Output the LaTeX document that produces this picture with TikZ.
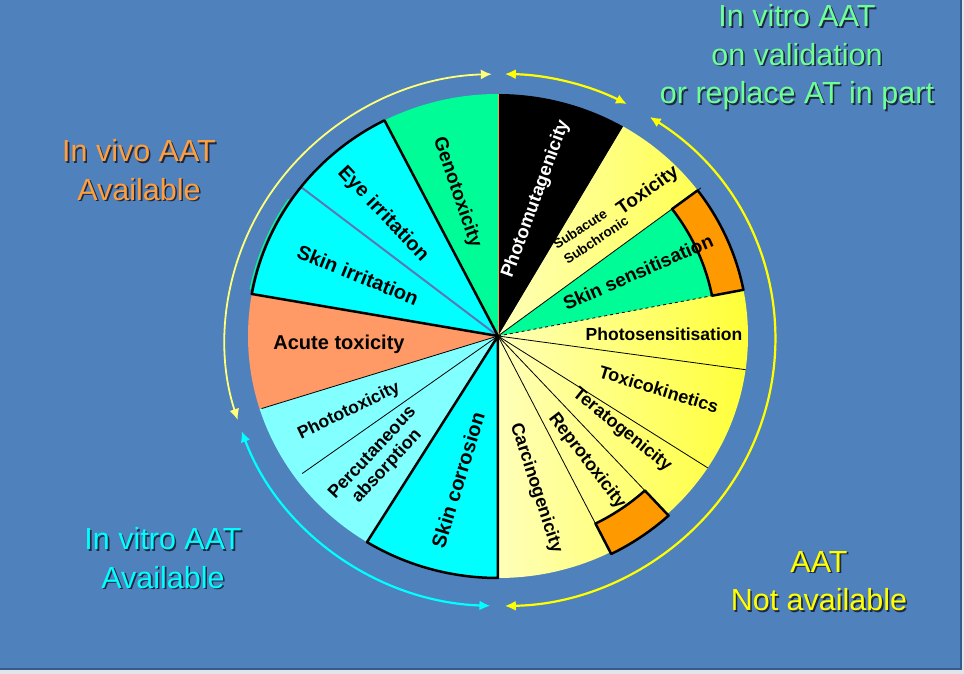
\documentclass[tikz,border=0pt]{standalone}
\usepackage{fontspec}
\setmainfont{Liberation Sans}
\usetikzlibrary{arrows.meta}
\definecolor{bgblue}{RGB}{79,129,189}
\definecolor{edgeblue}{RGB}{55,90,140}
\definecolor{framegray}{RGB}{225,228,232}
\definecolor{sgreen}{RGB}{0,252,150}
\definecolor{scyan}{RGB}{0,255,255}
\definecolor{lcyan}{RGB}{130,255,255}
\definecolor{salmon}{RGB}{255,153,102}
\definecolor{sorange}{RGB}{255,153,0}
\definecolor{pyellow}{RGB}{255,255,185}
\definecolor{byellow}{RGB}{255,255,55}
\definecolor{sepblue}{RGB}{90,120,180}
\definecolor{tgreen}{RGB}{110,255,150}
\definecolor{torange}{RGB}{255,158,60}
\definecolor{tcyan}{RGB}{0,255,255}
\definecolor{tyellow}{RGB}{255,255,0}
\definecolor{lyellow}{RGB}{255,255,120}
\definecolor{shadowc}{RGB}{30,40,65}
\newcommand\piesector[3]{\path[#1] (0,0) -- (#2:250pt and 242pt) arc[start angle=#2, end angle=#3, x radius=250pt, y radius=242pt] -- cycle;}
\newcommand\shl[1]{\rlap{\hspace{1.6pt}\raisebox{-1.6pt}{\textcolor{shadowc}{#1}}}#1}
\tikzset{
  lab/.style={font=\bfseries\fontsize{19}{21}\selectfont, inner sep=0pt, text=black},
  slab/.style={font=\bfseries\fontsize{13.5}{15}\selectfont, inner sep=0pt, text=black},
  outer/.style={font=\fontsize{30.5}{38.5}\selectfont, align=center, inner sep=0pt},
  arcarrow/.style={line width=2.2pt, {Latex[length=11pt,width=10pt]}-{Latex[length=11pt,width=10pt]}},
  divider/.style={black, line width=0.8pt},
  thickline/.style={draw=black, line width=2.5pt, line join=round}
}
\begin{document}
\begin{tikzpicture}[x=1pt,y=1pt]
\useasboundingbox (-498,-338) rectangle (466,336);
\fill[framegray] (-498,-338) rectangle (466,336);
\fill[bgblue] (-498,-333) rectangle (463,336);
\draw[edgeblue, line width=1.5pt] (-498,-333) -- (463,-333) -- (463,336);

% yellow region with gradient
\path[left color=pyellow, right color=byellow] (0,0) -- (-90:250pt and 242pt) arc[start angle=-90, end angle=60, x radius=250pt, y radius=242pt] -- cycle;

% sectors
\piesector{fill=black}{60}{90}
\piesector{fill=sgreen}{90}{117}
\draw[sgreen, line width=1.2pt] (146:252.5pt and 244.5pt) arc[start angle=146, end angle=169, x radius=252.5pt, y radius=244.5pt];
\piesector{fill=scyan}{117}{170}
\piesector{fill=salmon}{170}{197.6}
\piesector{fill=lcyan}{197.6}{238.4}
\piesector{fill=scyan}{238.4}{270}
\piesector{fill=sgreen}{11}{37}

% dividers
\draw[torange, line width=0.8pt] (0,0) -- (90:250pt and 242pt);
\draw[divider] (0,0) -- (197.6:248pt and 240pt);
\draw[divider] (0,0) -- (216:242pt and 234pt);
\draw[divider] (0,0) -- (37:254pt and 246pt);
\draw[divider, dashed] (0,0) -- (11:250pt and 242pt);
\draw[divider] (0,0) -- (-8:250pt and 242pt);
\draw[divider] (0,0) -- (-33:250pt and 242pt);
\draw[divider] (0,0) -- (-47.4:250pt and 242pt);
\draw[divider] (0,0) -- (-63.3:250pt and 242pt);
\draw[sepblue, line width=2pt] (0,0) -- (142:250pt and 242pt);

% thick outlines
\piesector{thickline}{117}{170}
\piesector{thickline}{238.4}{270}

% orange bars
\draw[fill=sorange, line width=2.5pt, line join=round] (11:218pt and 211pt) -- (11:250pt and 242pt) arc[start angle=11, end angle=37, x radius=250pt, y radius=242pt] -- (37:218pt and 211pt) arc[start angle=37, end angle=11, x radius=218pt, y radius=211pt] -- cycle;
\draw[fill=sorange, line width=2.5pt, line join=round] (-63.3:217pt and 210pt) -- (-63.3:252pt and 244pt) arc[start angle=-63.3, end angle=-47.4, x radius=252pt, y radius=244pt] -- (-47.4:217pt and 210pt) arc[start angle=-47.4, end angle=-63.3, x radius=217pt, y radius=210pt] -- cycle;

% sector labels
\node[lab, rotate=-71] (geno) at (-41,144) {Genotoxicity};
\node[lab, rotate=70, text=white, font=\bfseries\fontsize{18.5}{20}\selectfont] (photomut) at (38,137) {Photomutagenicity};
\node[lab, rotate=-46.5, font=\bfseries\fontsize{20}{22}\selectfont] (eye) at (-115,122) {Eye irritation};
\node[lab, rotate=-22, font=\bfseries\fontsize{20}{22}\selectfont] (skinirr) at (-140,61) {Skin irritation};
\node[lab, font=\bfseries\fontsize{20}{22}\selectfont] (acute) at (-159,-8) {Acute toxicity};
\node[lab, rotate=25.7, font=\bfseries\fontsize{17.5}{19}\selectfont] (phototox) at (-149,-75) {Phototoxicity};
\node[lab, rotate=47, align=center, font=\bfseries\fontsize{18}{20}\selectfont] (percut) at (-118,-124) {Percutaneous\\absorption};
\node[lab, rotate=73, font=\bfseries\fontsize{20}{22}\selectfont] (skincorr) at (-40,-144) {Skin corrosion};
\node[lab, rotate=-72, font=\bfseries\fontsize{18}{20}\selectfont] (carc) at (38,-152) {Carcinogenicity};
\node[lab, rotate=-52.5, font=\bfseries\fontsize{18}{20}\selectfont] (repro) at (89,-125) {Reprotoxicity};
\node[lab, rotate=-39, font=\bfseries\fontsize{18}{20}\selectfont] (terato) at (124,-94) {Teratogenicity};
\node[lab, rotate=-17, font=\bfseries\fontsize{18}{20}\selectfont] (toxkin) at (161,-53) {Toxicokinetics};
\node[lab, font=\bfseries\fontsize{17.5}{19}\selectfont] (photosens) at (166,2) {Photosensitisation};
\node[lab, rotate=23.7, font=\bfseries\fontsize{19}{21}\selectfont] (skinsens) at (140,64) {Skin sensitisation};
\node[lab, rotate=35, font=\bfseries\fontsize{19}{21}\selectfont] (toxicity) at (150,145) {Toxicity};
\node[slab, rotate=33] (subacute) at (82,107) {Subacute};
\node[slab, rotate=34] (subchronic) at (98,96) {Subchronic};

% outer labels with shadows
\node[outer, text=tgreen] (greentxt) at (299,278) {\shl{In vitro AAT}\\\shl{on validation}\\\shl{or replace AT in part}};
\node[outer, text=torange] (orangetxt) at (-359,165) {\shl{In vivo AAT}\\\shl{Available}};
\node[outer, text=tcyan] (cyantxt) at (-335,-223) {\shl{In vitro AAT}\\\shl{Available}};
\node[outer, text=tyellow] (yellowtxt) at (321,-246) {\shl{AAT}\\\shl{Not available}};

% arcs with arrows
\begin{scope}[shift={(2,-4)}]
\draw[arcarrow, lyellow, line width=1.8pt] (91.7:275pt and 266pt) arc[start angle=91.7, end angle=197.5, x radius=275pt, y radius=266pt];
\draw[arcarrow, tyellow] (89:275pt and 266pt) arc[start angle=89, end angle=62.5, x radius=275pt, y radius=266pt];
\draw[arcarrow, tyellow] (57:275pt and 266pt) arc[start angle=57, end angle=-89, x radius=275pt, y radius=266pt];
\draw[arcarrow, tcyan] (200:275pt and 266pt) arc[start angle=200, end angle=268, x radius=275pt, y radius=266pt];
\end{scope}
\end{tikzpicture}
\end{document}
